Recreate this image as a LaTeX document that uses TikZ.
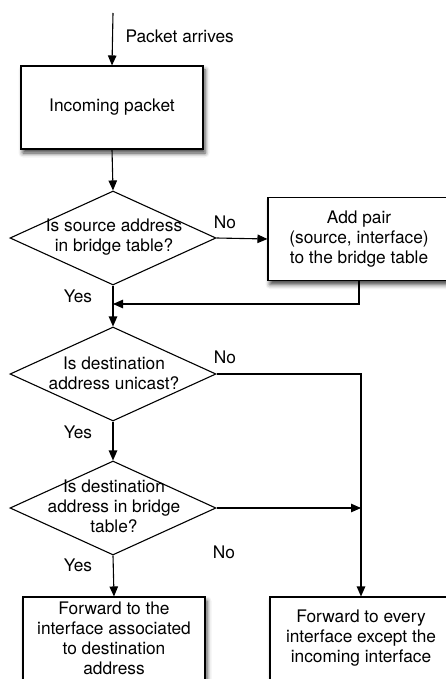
\documentclass[tikz,border=0pt]{standalone}
\usepackage{fontspec}
\setmainfont{TeX Gyre Heros}
\usetikzlibrary{shapes.geometric,arrows.meta,shadows.blur}

\begin{document}
\begin{tikzpicture}[x=1pt,y=-1pt,
  font=\fontsize{17.3}{20}\selectfont,
  line width=1.1pt,
  >={Triangle[length=10pt,width=8.5pt]},
  procbox/.style={draw, fill=white, rectangle, minimum width=182pt,
    minimum height=83pt, inner sep=2pt, align=center,
    blur shadow={shadow xshift=2pt, shadow yshift=-4pt,
      shadow blur radius=4.5pt, shadow opacity=75}},
  decision/.style={draw, diamond, minimum width=206pt, minimum height=94pt,
    inner sep=0pt},
  qtext/.style={align=center, inner sep=0pt},
  lbl/.style={inner sep=0pt}
]
\useasboundingbox (0,0) rectangle (446,679);

% process boxes
\node[procbox] (incoming) at (112,107.5) {Incoming packet};
\node[procbox] (addpair) at (359,239) {Add pair\\(source, interface)\\to the bridge table};
\node[procbox] (fwdone) at (114,638.5) {Forward to the\\interface associated\\to destination\\address};
\node[procbox] (fwdall) at (361,638.5) {Forward to every\\interface except the\\incoming interface};

% decisions
\node[decision] (srcq) at (113,238) {};
\node[qtext] (srcqt) at (114,237) {Is source address\\in bridge table?};
\node[decision] (ucastq) at (113,374) {};
\node[qtext] (ucastqt) at (114,373) {Is destination\\address unicast?};
\node[decision] (dstq) at (113,508) {};
\node[qtext] (dstqt) at (114,506.7) {Is destination\\address in bridge\\table?};

% junction points
\coordinate (start) at (113,13);
\coordinate (merge) at (113,304);
\coordinate (flood) at (361,508);

% connectors
\draw[->] (start) -- (incoming.north);
\node[lbl, anchor=west] (arrives) at (125,36) {Packet arrives};
\draw[->] (incoming.south) -- (srcq.north);
\draw[->] (srcq.east) -- (addpair.west);
\draw[->] (addpair.south) |- (merge);
\draw[->] (srcq.south) -- (ucastq.north);
\draw[->] (ucastq.east) -| (fwdall.north);
\draw[->] (ucastq.south) -- (dstq.north);
\draw[->] (dstq.east) -- (flood);
\draw[->] (dstq.south) -- (fwdone.north);

% branch labels
\node[lbl] (no1) at (225,222) {No};
\node[lbl] (yes1) at (78,296) {Yes};
\node[lbl] (no2) at (225,357) {No};
\node[lbl] (yes2) at (78,432) {Yes};
\node[lbl] (no3) at (224,552) {No};
\node[lbl] (yes3) at (78,565) {Yes};
\end{tikzpicture}
\end{document}
